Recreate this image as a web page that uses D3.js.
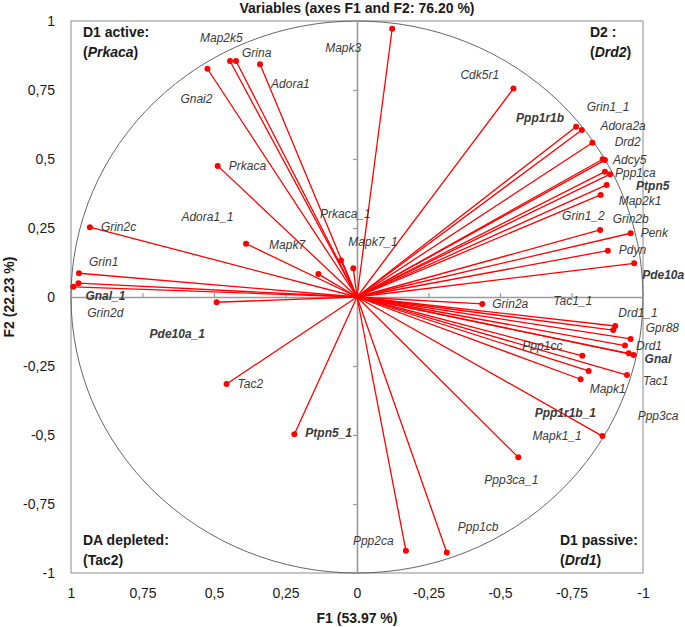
<!DOCTYPE html>
<html>
<head>
<meta charset="utf-8">
<script src="https://cdn.jsdelivr.net/npm/d3@7"></script>
<style>
  body { margin: 0; background: #fff; }
  svg { display: block; font-family: "Liberation Sans", Arial, sans-serif; }
</style>
</head>
<body>
<div id="chart"></div>
<script>
// Variable names and their loadings on F1 / F2
const variables = [
  "Map2k5", "Grina", "Gnai2", "Adora1", "Prkaca", "Grin2c", "Mapk7", "Adora1_1",
  "Prkaca_1", "Mapk7_1", "Grin1", "Gnal_1", "Grin2d", "Pde10a_1", "Tac2", "Ptpn5_1",
  "Ppp2ca", "Ppp1cb", "Ppp3ca_1", "Mapk1_1", "Mapk3", "Cdk5r1",
  "Ppp1r1b", "Grin1_1", "Adora2a", "Drd2", "Adcy5", "Ppp1ca", "Ptpn5", "Map2k1",
  "Grin2b", "Grin1_2", "Penk", "Pdyn", "Pde10a", "Grin2a",
  "Drd1_1", "Tac1_1", "Gpr88", "Drd1", "Ppp3ca", "Gnal", "Ppp1cc", "Mapk1", "Tac1", "Ppp1r1b_1"
];
const f1 = [
  0.444, 0.423, 0.523, 0.339, 0.487, 0.934, 0.388, 0.135,
  0.056, 0.013, 0.972, 0.974, 0.992, 0.491, 0.456, 0.219,
  -0.171, -0.314, -0.564, -0.858, -0.123, -0.547,
  -0.766, -0.786, -0.823, -0.859, -0.867, -0.867, -0.885, -0.873,
  -0.852, -0.850, -0.957, -0.877, -0.969, -0.438,
  -0.903, -0.896, -0.957, -0.937, -0.950, -0.967, -0.788, -0.810, -0.944, -0.782
];
const f2 = [
  0.855, 0.855, 0.827, 0.843, 0.475, 0.253, 0.193, 0.083,
  0.132, 0.104, 0.086, 0.050, 0.037, -0.019, -0.315, -0.497,
  -0.919, -0.926, -0.581, -0.504, 0.972, 0.755,
  0.617, 0.605, 0.559, 0.499, 0.496, 0.454, 0.445, 0.406,
  0.370, 0.243, 0.231, 0.168, 0.122, -0.025,
  -0.105, -0.120, -0.152, -0.176, -0.204, -0.210, -0.213, -0.268, -0.283, -0.298
];
const boldLabels = ["Ppp1r1b", "Ptpn5", "Pde10a", "Gnal", "Gnal_1", "Pde10a_1", "Ptpn5_1", "Ppp1r1b_1"];

const tickValues = [1, 0.75, 0.5, 0.25, 0, -0.25, -0.5, -0.75, -1];
const tickLabels = ["1", "0,75", "0,5", "0,25", "0", "-0,25", "-0,5", "-0,75", "-1"];

const title = "Variables (axes F1 and F2: 76.20 %)";
const xTitle = "F1 (53.97 %)";
const yTitle = "F2 (22.23 %)";

// label placement (pixel offset from the point), layout only
const labelOffset = {
  Map2k5: [-30, -19], Grina: [6, -4], Gnai2: [-27, 34], Adora1: [11, 24],
  Prkaca: [11, 4], Grin2c: [11, 4], Mapk7: [23, 5], Adora1_1: [-137, -53],
  Prkaca_1: [-21, -43], Mapk7_1: [-5, -22], Grin1: [10, -7], Gnal_1: [7, 17],
  Grin2d: [14, 30], Pde10a_1: [-67, 36], Tac2: [11, 4], Ptpn5_1: [11, 3],
  Ppp2ca: [-53, -6], Ppp1cb: [11, -22], Ppp3ca_1: [-34, 27], Mapk1_1: [-70, 4],
  Mapk3: [-67, 23], Cdk5r1: [-53, -10],
  Ppp1r1b: [-60, -5], Grin1_1: [5, -19], Adora2a: [8, -13], Drd2: [12, -13],
  Adcy5: [8, 4], Ppp1ca: [10, 5], Ptpn5: [26, 16], Map2k1: [12, 20],
  Grin2b: [12, 28], Grin1_2: [-38, -10], Penk: [10, 4], Pdyn: [11, 3],
  Pde10a: [8, 16], Grin2a: [10, 4],
  Drd1_1: [3, -9], Tac1_1: [-60, -25], Gpr88: [15, -7], Drd1: [11, 4],
  Ppp3ca: [9, 67], Gnal: [11, 8], Ppp1cc: [-60, -6], Mapk1: [1, 22],
  Tac1: [16, 10], Ppp1r1b_1: [-46, 38]
};

const width = 685, height = 627;
const plot = { left: 71, right: 643, top: 21, bottom: 573 };

const svg = d3.select("#chart")
  .append("svg")
  .attr("width", width)
  .attr("height", height);

// F1 runs from 1 on the left to -1 on the right
const x = d3.scaleLinear().domain([1, -1]).range([plot.left, plot.right]);
const y = d3.scaleLinear().domain([1, -1]).range([plot.top, plot.bottom]);

const fmt = d => tickLabels[tickValues.indexOf(d)];

// frame
svg.append("rect")
  .attr("x", plot.left)
  .attr("y", plot.top)
  .attr("width", plot.right - plot.left)
  .attr("height", plot.bottom - plot.top)
  .attr("fill", "none")
  .attr("stroke", "#8c8c8c")
  .attr("stroke-width", 1);

// tick labels outside the frame
const yAxis = svg.append("g")
  .attr("transform", `translate(${plot.left},0)`)
  .call(d3.axisLeft(y).tickValues(tickValues).tickFormat(fmt).tickSize(0).tickPadding(16));
const xAxis = svg.append("g")
  .attr("transform", `translate(0,${plot.bottom})`)
  .call(d3.axisBottom(x).tickValues(tickValues).tickFormat(fmt).tickSize(0).tickPadding(15));
[yAxis, xAxis].forEach(g => {
  g.select(".domain").remove();
  g.selectAll("text")
    .style("font-size", "14px")
    .style("font-family", "'Liberation Sans', Arial, sans-serif")
    .attr("fill", "#1a1a1a");
});

// correlation circle
svg.append("ellipse")
  .attr("cx", x(0))
  .attr("cy", y(0))
  .attr("rx", x(-1) - x(0))
  .attr("ry", y(-1) - y(0))
  .attr("fill", "none")
  .attr("stroke", "#555")
  .attr("stroke-width", 0.9);

// axes through the origin
const vAxis = svg.append("g")
  .attr("transform", `translate(${x(0)},0)`)
  .call(d3.axisLeft(y).tickValues(tickValues).tickFormat("").tickSize(4).tickSizeOuter(0));
const hAxis = svg.append("g")
  .attr("transform", `translate(0,${y(0)})`)
  .call(d3.axisTop(x).tickValues(tickValues).tickFormat("").tickSize(4).tickSizeOuter(0));
[vAxis, hAxis].forEach(g => {
  g.select(".domain").attr("stroke", "#9a9a9a").attr("stroke-width", 1.6);
  g.selectAll(".tick line").attr("stroke", "#9a9a9a").attr("stroke-width", 1.2);
});

const data = variables.map((name, i) => ({ name, f1: f1[i], f2: f2[i] }));

// vectors
svg.selectAll(".vec")
  .data(data)
  .enter()
  .append("line")
  .attr("class", "vec")
  .attr("x1", x(0))
  .attr("y1", y(0))
  .attr("x2", d => x(d.f1))
  .attr("y2", d => y(d.f2))
  .attr("stroke", "#ff0000")
  .attr("stroke-width", 1.3);

svg.selectAll(".dot")
  .data(data)
  .enter()
  .append("circle")
  .attr("class", "dot")
  .attr("cx", d => x(d.f1))
  .attr("cy", d => y(d.f2))
  .attr("r", 3)
  .attr("fill", "#ff0000");

// variable labels
svg.selectAll(".lab")
  .data(data)
  .enter()
  .append("text")
  .attr("class", "lab")
  .attr("x", d => x(d.f1) + (labelOffset[d.name] || [6, 4])[0])
  .attr("y", d => y(d.f2) + (labelOffset[d.name] || [6, 4])[1])
  .style("font-size", "12px")
  .style("font-style", "italic")
  .style("font-weight", d => boldLabels.includes(d.name) ? "bold" : "normal")
  .attr("fill", "#3a3a3a")
  .text(d => d.name);

// corner annotations
function corner(xPos, yPos, line1, pre, word, post, wordItalic) {
  const t = svg.append("text")
    .attr("x", xPos)
    .attr("y", yPos)
    .style("font-size", "14px")
    .style("font-weight", "bold")
    .attr("fill", "#1a1a1a");
  t.append("tspan").text(line1);
  const t2 = svg.append("text")
    .attr("x", xPos)
    .attr("y", yPos + 20)
    .style("font-size", "14px")
    .style("font-weight", "bold")
    .attr("fill", "#1a1a1a");
  t2.append("tspan").text(pre);
  t2.append("tspan").style("font-style", wordItalic ? "italic" : "normal").text(word);
  t2.append("tspan").text(post);
}
corner(83, 37, "D1 active:", "(", "Prkaca", ")", true);
corner(590, 37, "D2 :", "(", "Drd2", ")", true);
corner(83, 545, "DA depleted:", "(", "Tac2", ")", false);
corner(560, 545, "D1 passive:", "(", "Drd1", ")", true);

// titles
svg.append("text")
  .attr("x", x(0))
  .attr("y", 13)
  .attr("text-anchor", "middle")
  .style("font-size", "14px")
  .style("font-weight", "bold")
  .attr("fill", "#1a1a1a")
  .text(title);

svg.append("text")
  .attr("x", x(0))
  .attr("y", 623)
  .attr("text-anchor", "middle")
  .style("font-size", "14px")
  .style("font-weight", "bold")
  .attr("fill", "#1a1a1a")
  .text(xTitle);

svg.append("text")
  .attr("transform", `translate(14,${y(0)}) rotate(-90)`)
  .attr("text-anchor", "middle")
  .style("font-size", "14px")
  .style("font-weight", "bold")
  .attr("fill", "#1a1a1a")
  .text(yTitle);
</script>
</body>
</html>
